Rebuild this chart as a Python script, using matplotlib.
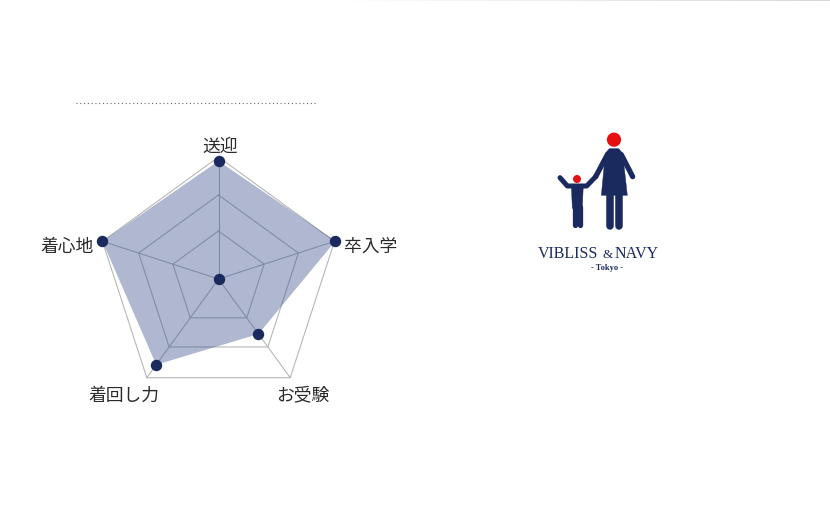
import numpy as np
import matplotlib
matplotlib.use("Agg")
import matplotlib.pyplot as plt
from matplotlib.patches import Circle, Polygon

plt.rcParams['font.family'] = ['Noto Sans CJK JP', 'DejaVu Sans']

# radar data (radius scale, outer ring = 122)
categories = ["送迎", "卒入学", "お受験", "着回し力", "着心地"]
values = [118, 123, 68, 106, 122]
rings = [48, 84, 122]
hub_value = 0

NAVY = "#1a2a5e"
FILL = "#374d8c"
RED = "#e60f12"

fig = plt.figure(figsize=(8.3, 5.08), dpi=100, facecolor="white")

# pixel layer for everything that is not the radar itself
bg = fig.add_axes([0, 0, 1, 1])
bg.set_xlim(0, 830)
bg.set_ylim(508, 0)
bg.axis("off")

# faded rule along the top edge
grad = np.linspace(1.0, 0.84, 256).reshape(1, -1)
bg.imshow(grad, extent=(330, 830, 1.2, 0), cmap="gray", vmin=0, vmax=1, aspect="auto")
bg.set_xlim(0, 830)
bg.set_ylim(508, 0)

# dotted rule above the chart
bg.plot([76, 317], [103, 103], color="#666666", lw=0.8, ls=(0, (1, 2.4)))

# radar on polar axes, centre at about (218.5, 279) px
rmax = 130
ax = fig.add_axes([88.5 / 830, (508 - 409) / 508, 260 / 830, 260 / 508], projection="polar")
ax.set_theta_zero_location("N")
ax.set_theta_direction(-1)
ax.set_rlim(0, rmax)
ax.set_axis_off()
ax.patch.set_alpha(0)

angles = np.linspace(0, 2 * np.pi, len(categories), endpoint=False)
closed = np.append(angles, angles[0])

for r in rings:
    ax.plot(closed, [r] * len(closed), color="#b3b3b3", lw=0.75, zorder=1)
for a in angles:
    ax.plot([a, a], [0, rings[-1]], color="#b3b3b3", lw=0.75, zorder=1)

ax.fill(closed, values + values[:1], color=FILL, alpha=0.4, lw=0, zorder=2)
ax.plot(angles, values, ls="none", marker="o", ms=7.2, color=NAVY, zorder=3, clip_on=False)
ax.plot([0], [hub_value], ls="none", marker="o", ms=7.2, color=NAVY, zorder=3, clip_on=False)

label_pos = [(220.5, 146.5), (371, 246.5), (303, 395.5), (124, 395.5), (67, 247)]
for name, (x, y) in zip(categories, label_pos):
    bg.text(x, y, name, fontsize=12.8, color="#2a2a2a", ha="center", va="center")


def z(x, y):
    return 530 + x / 3, 120 + y / 3


def poly(points, color=NAVY):
    bg.add_patch(Polygon([z(*p) for p in points], closed=True, fc=color, ec=color, lw=0.3))


def stroke(points, width):
    xs, ys = zip(*[z(*p) for p in points])
    bg.plot(xs, ys, color=NAVY, lw=width, solid_capstyle="round", solid_joinstyle="round")


# woman
bg.add_patch(Circle(z(252, 59), 7.1, fc=RED, ec="none"))
poly([(238, 86), (266, 86), (278, 100), (292, 226), (214, 226), (226, 100)])
stroke([(232, 104), (197, 170)], 3.8)
stroke([(274, 104), (308, 170)], 3.8)
stroke([(240, 226), (240, 318)], 5.4)
stroke([(266, 226), (266, 318)], 5.4)

# child
bg.add_patch(Circle(z(141, 177), 4, fc=RED, ec="none"))
stroke([(90, 173), (112, 198), (170, 198), (197, 170)], 3.6)
poly([(124, 194), (160, 194), (157, 265), (127, 265)])
stroke([(135, 262), (135, 315)], 3.8)
stroke([(150, 262), (150, 315)], 3.8)

# logo wording
LOGO_FONT = "Liberation Serif"
bg.text(538, 254, "VIBLISS", family=LOGO_FONT, fontsize=11.5, color=NAVY, ha="left", va="center")
bg.text(607.5, 255, "&", family=LOGO_FONT, fontsize=9.5, color=NAVY, ha="center", va="center")
bg.text(659, 254, "NAVY", family=LOGO_FONT, fontsize=11.5, color=NAVY, ha="right", va="center")
bg.text(606.5, 268.5, "- Tokyo -", family=LOGO_FONT, fontsize=6, color=NAVY,
        ha="center", va="center", fontweight="bold")

fig.savefig("out.png", dpi=100)
